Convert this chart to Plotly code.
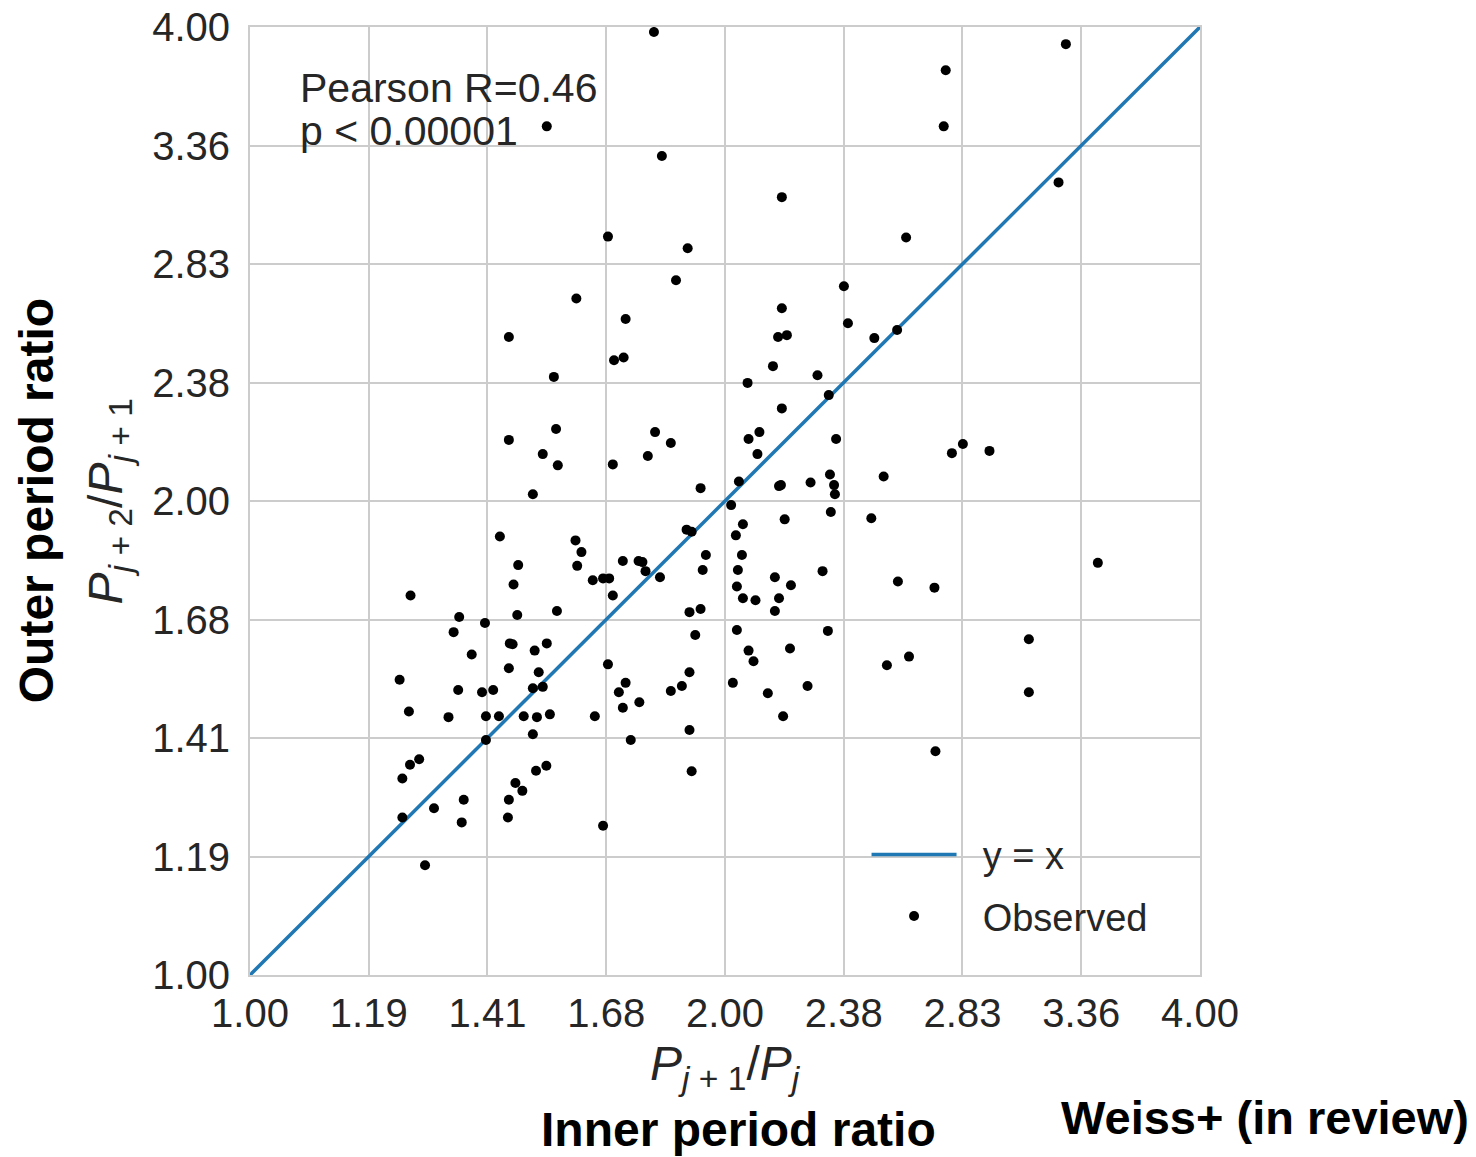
import plotly.graph_objects as go

# Observed period ratios (inner = P_{j+1}/P_j, outer = P_{j+2}/P_{j+1})
inner_ratio = [
    1.803, 1.542, 1.824, 1.686, 1.894, 1.862, 1.610, 1.730, 1.459, 3.289,
    2.760, 2.752, 2.173, 3.254, 2.605, 2.379, 2.173, 2.161, 2.189, 2.393,
    2.487, 2.571, 1.701, 1.725, 1.558, 1.459, 1.563, 1.533, 1.567, 1.698,
    1.806, 1.848, 1.787, 1.511, 1.930, 2.067, 2.145, 2.070, 2.103, 2.097,
    2.041, 2.164, 2.018, 2.053, 2.032, 2.050, 2.038, 2.035, 2.053, 2.091,
    2.151, 2.164, 1.440, 1.479, 1.469, 1.264, 1.608, 1.622, 1.612, 1.649,
    1.674, 1.689, 1.698, 1.723, 1.763, 1.773, 1.781, 1.819, 1.891, 1.905,
    1.945, 1.936, 2.289, 2.327, 2.173, 2.352, 2.785, 2.830, 2.942, 2.170,
    2.266, 2.331, 2.345, 2.348, 2.521, 2.334, 2.476, 2.182, 2.202, 2.306,
    2.574, 2.715, 3.446, 1.357, 1.409, 1.477, 1.565, 1.346, 1.382, 1.461,
    1.467, 1.515, 1.542, 1.459, 1.524, 1.244, 1.355, 1.403, 1.426, 1.511,
    1.533, 1.261, 1.336, 1.411, 1.438, 1.491, 1.520, 1.549, 1.511, 1.411,
    1.280, 1.263, 1.249, 1.518, 1.541, 1.473, 1.488, 1.366, 1.308, 1.459,
    1.457, 1.362, 1.249, 1.674, 1.899, 1.930, 1.915, 1.686, 1.730, 1.713,
    1.723, 1.654, 1.765, 1.848, 1.878, 1.899, 1.899, 1.743, 1.905, 2.151,
    2.035, 2.070, 2.085, 2.023, 2.129, 2.177, 2.324, 2.199, 2.256, 2.533,
    2.616, 3.116, 3.116, 2.719, 1.291,
]
outer_ratio = [
    3.971, 3.459, 3.312, 2.944, 2.894, 2.762, 2.689, 2.610, 2.542, 3.901,
    3.755, 3.459, 3.119, 3.187, 2.940, 2.738, 2.651, 2.542, 2.549, 2.594,
    2.538, 2.568, 2.457, 2.467, 2.398, 2.187, 2.222, 2.142, 2.107, 2.110,
    2.212, 2.177, 2.136, 2.020, 2.038, 2.377, 2.436, 2.190, 2.212, 2.142,
    2.058, 2.044, 1.988, 1.933, 1.902, 1.848, 1.808, 1.765, 1.735, 1.730,
    1.789, 1.735, 1.899, 1.821, 1.770, 1.742, 1.888, 1.856, 1.819, 1.781,
    1.786, 1.786, 1.742, 1.832, 1.832, 1.829, 1.805, 1.789, 1.918, 1.912,
    1.848, 1.808, 2.404, 2.335, 2.290, 2.190, 2.145, 2.174, 2.152, 2.047,
    2.055, 2.079, 2.047, 2.020, 2.073, 1.968, 1.950, 1.947, 1.768, 1.805,
    1.778, 1.762, 1.827, 1.688, 1.673, 1.693, 1.703, 1.651, 1.598, 1.624,
    1.622, 1.607, 1.624, 1.566, 1.557, 1.540, 1.517, 1.512, 1.517, 1.521,
    1.524, 1.470, 1.458, 1.460, 1.460, 1.460, 1.458, 1.464, 1.422, 1.410,
    1.371, 1.360, 1.333, 1.348, 1.358, 1.324, 1.309, 1.292, 1.276, 1.292,
    1.259, 1.250, 1.259, 1.244, 1.700, 1.708, 1.644, 1.575, 1.533, 1.512,
    1.478, 1.460, 1.490, 1.515, 1.526, 1.557, 1.431, 1.410, 1.347, 1.703,
    1.656, 1.607, 1.582, 1.533, 1.510, 1.460, 1.654, 1.612, 1.526, 1.573,
    1.593, 1.634, 1.512, 1.387, 1.174,
]

# identity line y = x
line_x = [1.0, 4.0]
line_y = [1.0, 4.0]

tick_values = [1.0, 1.1892, 1.4142, 1.6818, 2.0, 2.3784, 2.8284, 3.3636, 4.0]
tick_labels = ["1.00", "1.19", "1.41", "1.68", "2.00", "2.38", "2.83", "3.36", "4.00"]

FONT = "Liberation Sans, Arial, Helvetica, sans-serif"
TXT = "#262626"
GRID = "#cccccc"
NB = "\u00a0"

fig = go.Figure()
fig.add_trace(go.Scatter(
    x=line_x, y=line_y, mode="lines", name=NB * 2 + "y = x", legendgroup="a",
    line=dict(color="#1f77b4", width=3.5),
))
fig.add_trace(go.Scatter(
    x=inner_ratio, y=outer_ratio, mode="markers", name=NB * 2 + "Observed", legendgroup="b",
    marker=dict(color="black", size=10, line=dict(width=0)),
))

axis_common = dict(
    type="log",
    range=[0, 0.60206],
    tickvals=tick_values,
    ticktext=tick_labels,
    showgrid=True,
    gridcolor=GRID,
    gridwidth=2,
    showline=True,
    linecolor=GRID,
    linewidth=2,
    mirror=True,
    zeroline=False,
    ticks="",
    tickfont=dict(family=FONT, size=40, color=TXT),
)

fig.update_xaxes(**axis_common, ticklabelstandoff=2)
fig.update_yaxes(**axis_common, ticklabelstandoff=10)

fig.update_layout(
    width=1476,
    height=1157,
    margin=dict(l=250, r=276, t=27, b=182, autoexpand=False),
    paper_bgcolor="white",
    plot_bgcolor="white",
    font=dict(family=FONT, color=TXT),
    showlegend=True,
    legend=dict(
        x=0.649, y=0.16, xanchor="left", yanchor="top",
        font=dict(family=FONT, size=38, color=TXT),
        itemwidth=85,
        bgcolor="rgba(0,0,0,0)",
        tracegroupgap=9,
    ),
)

annotations = [
    dict(text="Pearson R=0.46", x=0.05, y=0.9357, xref="paper", yref="paper",
         xanchor="left", yanchor="middle", align="left", showarrow=False,
         font=dict(family=FONT, size=41, color=TXT)),
    dict(text="p < 0.00001", x=0.05, y=0.8903, xref="paper", yref="paper",
         xanchor="left", yanchor="middle", align="left", showarrow=False,
         font=dict(family=FONT, size=41, color=TXT)),
    dict(text="<i>P</i><sub><i>j</i> + 1</sub>/<i>P</i><sub><i>j</i></sub>",
         x=0.5, y=-0.097, xref="paper", yref="paper", xanchor="center", yanchor="middle",
         showarrow=False, font=dict(family=FONT, size=48, color=TXT)),
    dict(text="<b>Inner period ratio</b>", x=0.514, y=-0.1635, xref="paper", yref="paper",
         xanchor="center", yanchor="middle", showarrow=False,
         font=dict(family=FONT, size=48, color="black")),
    dict(text="<b>Weiss+ (in review)</b>", x=1.068, y=-0.150, xref="paper", yref="paper",
         xanchor="center", yanchor="middle", showarrow=False,
         font=dict(family=FONT, size=47, color="black")),
    dict(text="<i>P</i><sub><i>j</i> + 2</sub>/<i>P</i><sub><i>j</i> + 1</sub>",
         x=-0.148, y=0.5, xref="paper", yref="paper", xanchor="center", yanchor="middle",
         textangle=-90, showarrow=False, font=dict(family=FONT, size=48, color=TXT)),
    dict(text="<b>Outer period ratio</b>", x=-0.225, y=0.5, xref="paper", yref="paper",
         xanchor="center", yanchor="middle", textangle=-90, showarrow=False,
         font=dict(family=FONT, size=48, color="black")),
]
fig.update_layout(annotations=annotations)

fig.write_html("out.html")
